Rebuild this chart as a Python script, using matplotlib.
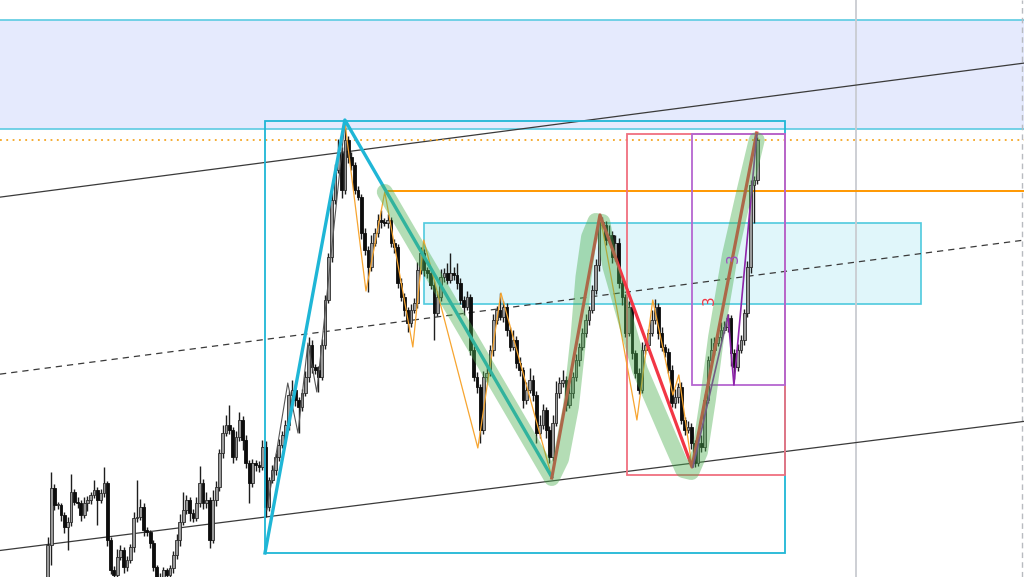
"""Candlestick chart with swing / zone drawings."""

import numpy as np
import matplotlib

matplotlib.use("Agg")
from matplotlib import pyplot as plt
from matplotlib.patches import Rectangle

# ---- candles (price in chart units, 0 = bottom of the visible range) ----
first_open = 0
closes = [
    32, 89, 72, 72, 62, 50, 55, 85, 75, 74, 62, 74,
    77, 82, 87, 77, 84, 94, 37, 7, 2, 20, 27, 10,
    17, 30, 59, 60, 70, 47, 45, 34, 10, 0, -3, 7,
    2, 9, 22, 37, 55, 67, 77, 64, 59, 74, 94, 74,
    77, 37, 77, 90, 124, 144, 152, 147, 120, 140, 157, 137,
    114, 94, 114, 112, 110, 130, 70, 97, 107, 120, 132, 142,
    152, 182, 187, 177, 170, 184, 200, 232, 210, 207, 200, 232,
    277, 320, 377, 407, 424, 387, 437, 420, 412, 387, 380, 344,
    327, 310, 334, 344, 357, 355, 354, 357, 334, 330, 294, 280,
    267, 254, 267, 274, 307, 324, 307, 304, 292, 264, 280, 300,
    304, 297, 304, 302, 294, 277, 270, 280, 227, 200, 190, 147,
    200, 204, 227, 257, 267, 260, 270, 247, 230, 237, 214, 207,
    177, 187, 197, 182, 144, 152, 167, 147, 120, 154, 184, 194,
    197, 172, 184, 200, 217, 230, 244, 257, 267, 287, 312, 355,
    352, 337, 342, 320, 334, 294, 280, 244, 270, 224, 204, 187,
    227, 232, 244, 257, 270, 244, 230, 225, 207, 174, 180, 190,
    157, 147, 150, 134, 114, 134, 130, 177, 217, 227, 234, 240,
    247, 250, 259, 224, 210, 227, 237, 264, 310, 392, 397, 437,
]
upper_wick = [
    8, 16, 4, 3, 2, 3, 5, 18, 3, 5, 3, 6,
    4, 3, 10, 3, 4, 16, 2, 3, 4, 8, 5, 3,
    4, 3, 6, 37, 8, 4, 3, 2, 3, 2, 4, 3,
    2, 3, 4, 6, 8, 18, 5, 3, 4, 6, 17, 4,
    8, 3, 10, 6, 4, 8, 10, 20, 3, 6, 8, 4,
    5, 3, 4, 3, 4, 7, 6, 3, 5, 4, 6, 4,
    5, 4, 10, 6, 3, 4, 6, 8, 5, 3, 4, 6,
    5, 4, 8, 6, 14, 6, 18, 4, 5, 3, 4, 3,
    5, 4, 8, 5, 6, 10, 4, 6, 3, 4, 3, 5,
    4, 3, 6, 5, 8, 6, 4, 3, 5, 4, 6, 8,
    5, 10, 20, 6, 12, 5, 4, 6, 3, 4, 5, 3,
    6, 8, 5, 6, 4, 17, 6, 4, 3, 10, 4, 6,
    3, 8, 12, 5, 4, 10, 6, 3, 4, 8, 12, 6,
    10, 4, 8, 5, 6, 4, 5, 6, 4, 5, 6, 4,
    5, 4, 10, 4, 8, 5, 4, 3, 6, 4, 3, 5,
    8, 5, 4, 10, 8, 4, 6, 3, 4, 5, 8, 4,
    5, 3, 6, 4, 3, 5, 8, 6, 4, 12, 6, 5,
    8, 6, 4, 3, 4, 6, 5, 4, 6, 5, 4, 3,
]
lower_wick = [
    6, 20, 5, 4, 6, 6, 23, 4, 3, 5, 6, 3,
    8, 4, 3, 25, 3, 4, 6, 4, 6, 5, 3, 6,
    4, 3, 5, 4, 3, 6, 4, 5, 4, 3, 4, 3,
    4, 3, 5, 4, 6, 3, 4, 8, 4, 3, 4, 6,
    5, 8, 3, 6, 4, 5, 3, 4, 6, 3, 4, 10,
    5, 20, 4, 6, 5, 3, 10, 4, 3, 5, 4, 3,
    4, 5, 3, 6, 26, 4, 3, 5, 6, 4, 15, 3,
    4, 3, 5, 4, 3, 8, 4, 6, 5, 4, 3, 6,
    5, 25, 4, 3, 4, 6, 3, 5, 4, 6, 5, 4,
    6, 9, 4, 3, 5, 4, 6, 5, 4, 27, 3, 4,
    5, 4, 3, 5, 6, 4, 8, 3, 5, 4, 6, 13,
    4, 5, 3, 6, 4, 3, 5, 6, 4, 3, 5, 6,
    8, 4, 3, 6, 10, 5, 4, 8, 6, 4, 3, 5,
    4, 6, 3, 5, 4, 6, 3, 4, 5, 3, 4, 6,
    4, 5, 3, 6, 4, 5, 8, 4, 3, 6, 5, 4,
    3, 4, 5, 3, 4, 6, 4, 5, 3, 4, 5, 6,
    4, 5, 3, 6, 4, 3, 5, 4, 3, 4, 5, 3,
    4, 3, 5, 13, 12, 4, 3, 5, 4, 6, 38, 4,
]

# visible window (bar index, price)
view_bars = (-14.5, 295.8)
view_price = (0, 577)

# ---- drawings, all in (bar index, price) ----
supply_band = (448, 557)
channel_upper = [(90, 425), (215, 479)]
channel_mid = [(90, 248), (215, 302)]
channel_lower = [(90, 70), (215, 122)]
dotted_level = 437
orange_level = 386
orange_level_start = 102.1

# boxes: (bar_left, bar_right, price_low, price_high)
cyan_box = (65.8, 223.3, 24, 456)
zone_box = (113.9, 264.5, 273, 354)
red_box = (175.5, 223.3, 102, 443)
purple_box = (195.2, 223.3, 192, 443)
now_bar = 244.8
edge_bar = 295.2

swing_bars = [65.8, 90, 152.7]
swing_prices = [24, 457, 100]

zig_bars = [90, 96.4, 102.1, 110.6, 113.9, 130.3, 137.3, 152.7, 167.3,
            178.5, 183.3, 189.4, 191.2, 195.2]
zig_prices = [455, 286, 385, 230, 337, 129, 284, 100, 362,
              157, 277, 182, 202, 110]

gray_zig_bars = [66.4, 72.7, 75.8, 78.8, 81.5, 90]
gray_zig_prices = [67, 194, 144, 234, 185, 455]

highlight_bars = [102.1, 152.7, 155.5, 158.5, 160.8, 162.3, 164.0, 166.0,
                  168.0, 170.5, 179.4, 188.5, 192.5, 195.0, 197.6, 200.0,
                  202.5, 206.7, 211.2, 214.8]
highlight_prices = [385, 99, 118, 170, 240, 300, 340, 356,
                    355, 310, 207, 137, 107, 105, 125, 177,
                    240, 322, 387, 437]

red_bars = [152.7, 167.3, 195.2, 214.8]
red_prices = [99, 362, 110, 444]

purple_bars = [195.5, 206.1, 207.9, 214.8]
purple_prices = [110, 262, 192, 442]

labels = [("3", 200.3, 277, "#f23645"), ("3", 207.6, 319, "#9c4fc0")]

CYAN = "#1fb6d6"

fig = plt.figure(figsize=(10.24, 5.77), dpi=100)
ax = fig.add_axes([0, 0, 1, 1])
ax.set_xlim(*view_bars)
ax.set_ylim(*view_price)
ax.axis("off")

# background zones
ax.axhspan(*supply_band, color="#e5eafd", zorder=0, lw=0)
for p in supply_band:
    ax.axhline(p, color="#5ccbe2", lw=1.2, zorder=1)

z0, z1, zl, zh = zone_box
ax.add_patch(Rectangle((z0, zl), z1 - z0, zh - zl, facecolor="#e0f6fa",
                       edgecolor="#4fcade", lw=1.2, zorder=1))

ax.axvline(now_bar, color="#c9ccd1", lw=1.3, zorder=1)
ax.axvline(edge_bar, color="#b8bbc0", lw=1.0, ls=(0, (4, 3)), zorder=1)

# channel
for line, style in ((channel_upper, "-"), (channel_mid, (0, (5, 4))),
                    (channel_lower, "-")):
    ax.axline(line[0], line[1], color="#3a3a3a", lw=0.9, ls=style, zorder=2)

ax.axhline(dotted_level, color="#f5a623", lw=1.3, ls=(0, (1, 2.5)), zorder=2)
ax.hlines(orange_level, orange_level_start, view_bars[1], color="#ff9800",
          lw=1.4, zorder=2)

# candles
bars = np.arange(len(closes))
closes_a = np.array(closes, dtype=float)
opens_a = np.concatenate([[first_open], closes_a[:-1]])
top = np.maximum(opens_a, closes_a)
bot = np.minimum(opens_a, closes_a)
highs = top + np.array(upper_wick)
lows = bot - np.array(lower_wick)
up = closes_a >= opens_a

ax.vlines(bars, lows, highs, color="#1e1e1e", lw=1.0, zorder=3)
heights = np.maximum(top - bot, 1.2)
ax.bar(bars[up], heights[up], bottom=bot[up], width=0.82, color="#9a9a9a",
       edgecolor="#2a2a2a", linewidth=0.6, zorder=4)
ax.bar(bars[~up], heights[~up], bottom=bot[~up], width=0.82, color="#0d0d0d",
       edgecolor="#0d0d0d", linewidth=0.6, zorder=4)

# pattern boxes
for (b0, b1, pl, ph), col, lw in ((cyan_box, CYAN, 1.3),
                                  (red_box, "#f0707f", 1.3),
                                  (purple_box, "#b566d0", 1.3)):
    ax.add_patch(Rectangle((b0, pl), b1 - b0, ph - pl, fill=False,
                           edgecolor=col, lw=lw, zorder=5))

# swing lines
ax.plot(gray_zig_bars, gray_zig_prices, color="#555555", lw=0.8, zorder=5)
ax.plot(zig_bars, zig_prices, color="#f7a530", lw=0.9, zorder=5)
ax.plot(swing_bars, swing_prices, color=CYAN, lw=2.4, zorder=6,
        solid_joinstyle="round")
ax.plot(red_bars, red_prices, color="#f23645", lw=2.3, zorder=6,
        solid_joinstyle="round")
ax.plot(purple_bars, purple_prices, color="#8e24aa", lw=1.2, zorder=6)
ax.plot(highlight_bars, highlight_prices, color="#4caf50", alpha=0.42, lw=11.5,
        solid_capstyle="round", solid_joinstyle="round", zorder=7)

for txt, b, p, col in labels:
    ax.text(b, p, txt, color=col, fontsize=11, rotation=90,
            ha="center", va="center", zorder=8)

fig.savefig("out.png", dpi=100, facecolor="white")
plt.close(fig)
